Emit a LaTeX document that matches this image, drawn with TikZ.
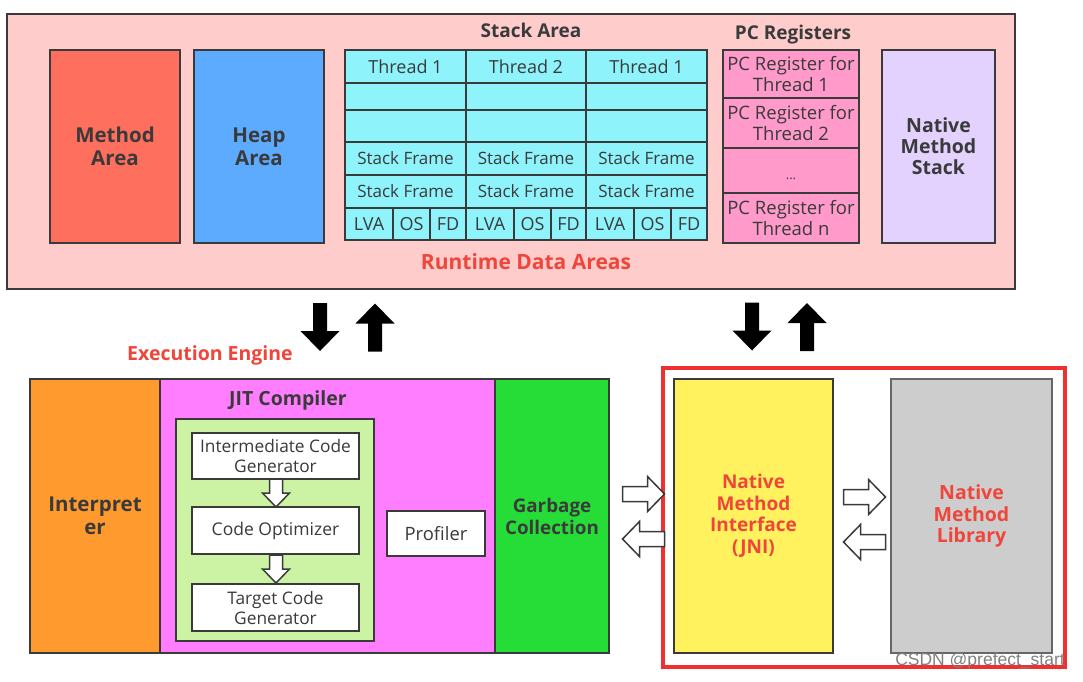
\documentclass[tikz,border=0pt]{standalone}
\usepackage{fontspec}
\setmainfont{Open Sans}
\newfontfamily\wmfont{Liberation Sans}
\usetikzlibrary{arrows.meta}
\definecolor{bordc}{HTML}{3A3A3A}
\definecolor{txtc}{HTML}{3A3A3A}
\definecolor{rtpink}{HTML}{FFCCCC}
\definecolor{methodc}{HTML}{FF6F5E}
\definecolor{heapc}{HTML}{5CABFF}
\definecolor{cyanc}{HTML}{8EF3FB}
\definecolor{pcc}{HTML}{FF9ACB}
\definecolor{lavc}{HTML}{E3D2FE}
\definecolor{orangec}{HTML}{FF9A2E}
\definecolor{magc}{HTML}{FF7DFF}
\definecolor{lgreenc}{HTML}{CCF2A3}
\definecolor{greenc}{HTML}{26DD38}
\definecolor{yellowc}{HTML}{FFF25E}
\definecolor{grayc}{HTML}{CDCDCD}
\definecolor{redtxt}{HTML}{F0453A}
\definecolor{redbox}{HTML}{EE3030}
\newcommand\fsz[2]{\fontsize{#1}{#2}\selectfont}
\tikzset{
  box/.style={draw=bordc, line width=1.8pt, inner sep=0pt, outer sep=0pt, align=center, text=txtc, anchor=north west},
  cell/.style={box, fill=cyanc, font=\fsz{17}{19}},
  pcell/.style={box, fill=pcc, font=\fsz{18.5}{21}},
  wbox/.style={box, fill=white, font=\fsz{17.3}{20}},
  title/.style={font=\bfseries\fsz{19}{21}, text=txtc, inner sep=0pt},
  redlabel/.style={font=\bfseries\fsz{19.5}{22}, text=redtxt, inner sep=0pt, align=center},
  blackarr/.pic={\fill[black] (-24,-7) -- (4,-7) -- (4,-19.5) -- (24,0) -- (4,19.5) -- (4,7) -- (-24,7) -- cycle;},
  hollowarr/.pic={\draw[bordc, fill=white, line width=1.5pt, line join=miter] (-21,-7.5) -- (4,-7.5) -- (4,-17.5) -- (21,0) -- (4,17.5) -- (4,7.5) -- (-21,7.5) -- cycle;},
  smallarr/.pic={\draw[bordc, fill=white, line width=1.5pt, line join=miter] (-14,-6.5) -- (0,-6.5) -- (0,-13.5) -- (14,0) -- (0,13.5) -- (0,6.5) -- (-14,6.5) -- cycle;}
}
\begin{document}
\begin{tikzpicture}[x=1pt,y=-1pt]
\useasboundingbox (0,0) rectangle (1083,681);
\fill[white] (0,0) rectangle (1083,681);

% Runtime data areas
\node[box, fill=rtpink, minimum width=1008, minimum height=275] (runtime) at (7,14) {};
\node[box, fill=methodc, minimum width=130, minimum height=193, font=\bfseries\fsz{20.5}{23}] (method) at (50,50) {Method\\Area};
\node[box, fill=heapc, minimum width=130, minimum height=193, font=\bfseries\fsz{20.5}{23}] (heap) at (194,50) {Heap\\Area};
\node[title] (stacktitle) at (531,30) {Stack Area};
\foreach \xl/\w/\lab/\n in {345/121/Thread 1/a, 466/120/Thread 2/b, 586/121/Thread 1/c} {
  \node[cell, minimum width=\w, minimum height=33, font=\fsz{18}{19}] (th\n) at (\xl,50) {\lab};
  \node[cell, minimum width=\w, minimum height=27] (ea\n) at (\xl,83) {};
  \node[cell, minimum width=\w, minimum height=32] (eb\n) at (\xl,110) {};
  \node[cell, minimum width=\w, minimum height=33] (sfa\n) at (\xl,142) {Stack Frame};
  \node[cell, minimum width=\w, minimum height=33] (sfb\n) at (\xl,175) {Stack Frame};
  \node[cell, minimum width=48, minimum height=32, font=\fsz{18}{19}] (lva\n) at (\xl,208) {LVA};
  \node[cell, minimum width=37, minimum height=32, font=\fsz{18}{19}] (os\n) at (\xl+48,208) {OS};
  \node[cell, minimum width=\w-85, minimum height=32, font=\fsz{18}{19}] (fd\n) at (\xl+85,208) {FD};
}
\node[title] (pctitle) at (793,35) {PC Registers};
\node[pcell, minimum width=136, minimum height=48] (pc1) at (723,50) {PC Register for\\Thread 1};
\node[pcell, minimum width=136, minimum height=50] (pc2) at (723,98) {PC Register for\\Thread 2};
\node[pcell, minimum width=136, minimum height=45] (pcd) at (723,148) {};
\node[font=\fsz{13}{14}, text=txtc, inner sep=0pt] (dots) at (791,179) {...};
\node[pcell, minimum width=136, minimum height=50] (pcn) at (723,193) {PC Register for\\Thread n};
\node[box, fill=lavc, minimum width=113, minimum height=193, font=\bfseries\fsz{19.5}{21}] (nms) at (882,50) {Native\\Method\\Stack};
\node[redlabel, font=\bfseries\fsz{21}{22}] (rtlabel) at (526,262) {Runtime Data Areas};

% block arrows between areas
\pic[rotate=-90] at (320,327) {blackarr};
\pic[rotate=90] at (375,327.5) {blackarr};
\pic[rotate=-90] at (752,326.5) {blackarr};
\pic[rotate=90] at (807,327) {blackarr};

% Execution engine
\node[redlabel] (eelabel) at (210,355) {Execution Engine};
\node[box, fill=orangec, minimum width=130, minimum height=274, font=\bfseries\fsz{20.5}{23}] (interp) at (30,379) {Interpret\\er};
\node[box, fill=magc, minimum width=335, minimum height=274] (jit) at (160,379) {};
\node[box, fill=greenc, minimum width=114, minimum height=274, font=\bfseries\fsz{18.8}{22}] (gc) at (495,379) {Garbage\\Collection};
\node[title, font=\bfseries\fsz{19.5}{21}] (jittitle) at (288,400) {JIT Compiler};
\node[box, fill=lgreenc, minimum width=198, minimum height=222] (jitin) at (176,419) {};
\node[wbox, minimum width=167, minimum height=46] (icg) at (192,433) {Intermediate Code\\Generator};
\node[wbox, minimum width=167, minimum height=47, font=\fsz{17.5}{20}] (co) at (192,507) {Code Optimizer};
\node[wbox, minimum width=167, minimum height=47] (tcg) at (192,584) {Target Code\\Generator};
\node[wbox, minimum width=98, minimum height=45, font=\fsz{18.4}{20}] (prof) at (387,511) {Profiler};
\pic[rotate=-90] at (276,493) {smallarr};
\pic[rotate=-90] at (276,569) {smallarr};

% Native side
\node[draw=redbox, line width=4pt, minimum width=402, minimum height=299, anchor=north west, inner sep=0pt] (nativebox) at (661,366) {};
\node[box, fill=yellowc, minimum width=159, minimum height=274, font=\bfseries\fsz{19}{21.5}, text=redtxt] (jni) at (674,379) {Native\\Method\\Interface\\(JNI)};
\node[box, draw=gray!80!black, fill=grayc, minimum width=161, minimum height=274, font=\bfseries\fsz{19.5}{21.5}, text=redtxt] (lib) at (891,379) {Native\\Method\\Library};
\pic at (643.5,494) {hollowarr};
\pic[rotate=180] at (643.5,539) {hollowarr};
\pic at (864.5,497) {hollowarr};
\pic[rotate=180] at (864.5,542) {hollowarr};

% watermark
\node[font=\wmfont\fsz{17.5}{18}, text=gray, inner sep=0pt] (wm) at (980,661) {CSDN @prefect\_start};
\end{tikzpicture}
\end{document}
